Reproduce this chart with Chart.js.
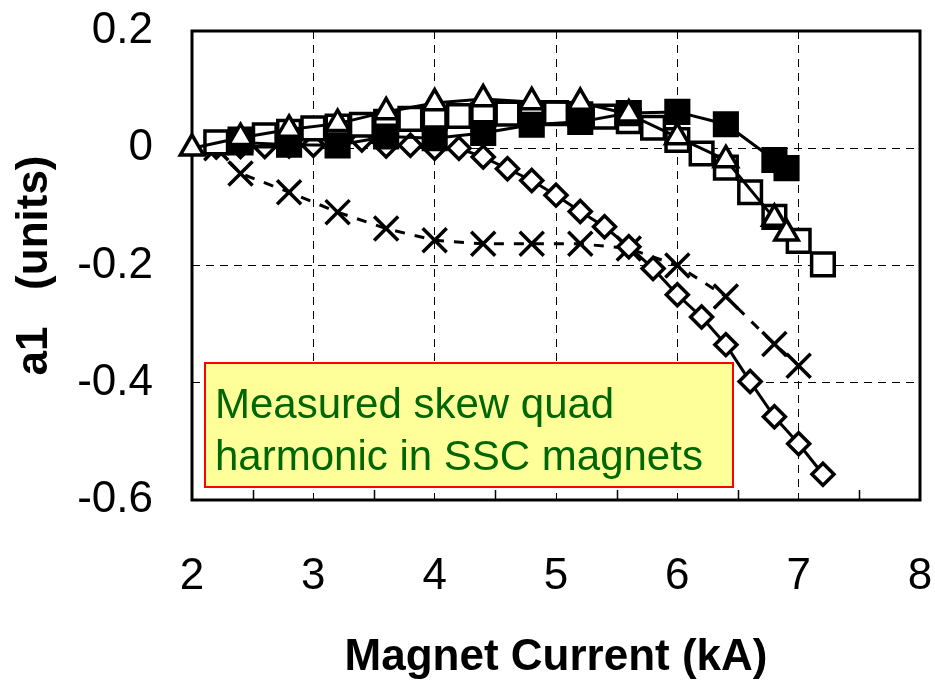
<!DOCTYPE html>
<html>
<head>
<meta charset="utf-8">
<title>Skew quad harmonic a1 vs magnet current</title>
<script src="https://cdn.jsdelivr.net/npm/chart.js@4.4.1/dist/chart.umd.min.js"></script>
<style>
  html, body { margin:0; padding:0; background:#fff; }
  #wrap { width:935px; height:687px; position:relative; }
</style>
</head>
<body>
<div id="wrap"><canvas id="chart"></canvas></div>
<script>
const FONT = '"Liberation Sans", Arial, Helvetica, sans-serif';

// axis ticks
const X_TICKS = [2, 3, 4, 5, 6, 7, 8];
const X_MINOR = [2.5, 3.5, 4.5, 5.5, 6.5, 7.5];
const Y_TICKS = [-0.6, -0.4, -0.2, 0, 0.2];
const Y_TICK_LABELS = ['-0.6', '-0.4', '-0.2', '0', '0.2'];

// magnet A - open triangles
const triX = [2.0, 2.4, 2.8, 3.2, 3.6, 4.0, 4.4, 4.8, 5.2, 5.6, 6.0, 6.4, 6.8, 6.9];
const triY = [0.0, 0.018, 0.032, 0.042, 0.062, 0.077, 0.084, 0.079, 0.078, 0.058, 0.019, -0.02, -0.12, -0.145];

// magnet B - filled squares
const fillX = [2.4, 2.8, 3.2, 3.6, 4.0, 4.4, 4.8, 5.2, 5.6, 6.0, 6.4, 6.8, 6.9];
const fillY = [0.01, 0.006, 0.005, 0.02, 0.017, 0.026, 0.04, 0.045, 0.06, 0.062, 0.041, -0.02, -0.034];

// magnet C - open squares
const sqX = [2.2, 2.4, 2.6, 2.8, 3.0, 3.2, 3.4, 3.6, 3.8, 4.0, 4.2, 4.4, 4.6, 4.8, 5.0, 5.2, 5.4, 5.6, 5.8, 6.0, 6.2, 6.4, 6.6, 6.8, 7.0, 7.2];
const sqY = [0.01, 0.015, 0.022, 0.028, 0.034, 0.037, 0.04, 0.045, 0.05, 0.052, 0.055, 0.057, 0.059, 0.06, 0.06, 0.058, 0.054, 0.046, 0.035, 0.014, -0.009, -0.033, -0.075, -0.117, -0.158, -0.198];

// magnet D - open diamonds
const diaX = [2.2, 2.4, 2.6, 2.8, 3.0, 3.2, 3.4, 3.6, 3.8, 4.0, 4.2, 4.4, 4.6, 4.8, 5.0, 5.2, 5.4, 5.6, 5.8, 6.0, 6.2, 6.4, 6.6, 6.8, 7.0, 7.2];
const diaY = [0.002, 0.003, 0.003, 0.004, 0.005, 0.008, 0.014, 0.004, 0.005, 0.0, 0.0, -0.015, -0.035, -0.055, -0.08, -0.108, -0.134, -0.168, -0.205, -0.25, -0.288, -0.335, -0.398, -0.458, -0.504, -0.556];

// magnet E - crosses, dashed
const crossX = [2.2, 2.4, 2.8, 3.2, 3.6, 4.0, 4.4, 4.8, 5.2, 5.6, 6.0, 6.4, 6.8, 7.0];
const crossY = [0.0, -0.043, -0.075, -0.109, -0.137, -0.157, -0.163, -0.163, -0.163, -0.171, -0.2, -0.253, -0.334, -0.371];

const NOTE_LINES = ['Measured skew quad', 'harmonic in SSC magnets'];

const pts = (xs, ys) => xs.map((x, i) => ({ x, y: ys[i] }));

function series(xs, ys, style, radius, fill, extra = {}) {
  return Object.assign({
    data: pts(xs, ys),
    showLine: true,
    clip: false,
    borderColor: '#000',
    borderWidth: 3,
    pointStyle: style,
    pointRadius: radius,
    pointHoverRadius: radius,
    pointBorderWidth: 3.5,
    pointBorderColor: '#000',
    pointBackgroundColor: fill,
    fill: false,
    tension: 0
  }, extra);
}

// frame around the plot plus the small inward ticks on the bottom axis
const framePlugin = {
  id: 'frame',
  beforeDatasetsDraw(chart) {
    const { ctx, chartArea: a, scales: { x } } = chart;
    ctx.save();
    ctx.strokeStyle = '#000';
    ctx.lineWidth = 1.5;
    X_MINOR.forEach(v => {
      const px = Math.round(x.getPixelForValue(v)) + 0.5;
      ctx.beginPath(); ctx.moveTo(px, a.bottom); ctx.lineTo(px, a.bottom - 10); ctx.stroke();
    });
    ctx.lineWidth = 3;
    ctx.strokeRect(a.left, a.top, a.right - a.left, a.bottom - a.top);
    ctx.restore();
  }
};

// yellow note box in the lower left of the plot
const notePlugin = {
  id: 'note',
  afterDraw(chart) {
    const { ctx, chartArea: a } = chart;
    const left = a.left + 13, top = a.top + 332, w = 528, h = 124;
    ctx.save();
    ctx.fillStyle = '#ffff99';
    ctx.fillRect(left, top, w, h);
    ctx.strokeStyle = '#ff0000';
    ctx.lineWidth = 2;
    ctx.strokeRect(left, top, w, h);
    ctx.fillStyle = '#006600';
    ctx.font = '42px ' + FONT;
    ctx.textBaseline = 'alphabetic';
    ctx.textAlign = 'left';
    ctx.fillText(NOTE_LINES[0], left + 10, top + 55);
    ctx.fillText(NOTE_LINES[1], left + 10, top + 107);
    ctx.restore();
  }
};

new Chart(document.getElementById('chart'), {
  type: 'scatter',
  data: {
    datasets: [
      series(triX, triY, 'triangle', 13.5, '#fff'),
      series(fillX, fillY, 'rect', 16, '#000'),
      series(sqX, sqY, 'rect', 16, '#fff'),
      series(diaX, diaY, 'rectRot', 11, '#fff'),
      series(crossX, crossY, 'crossRot', 17, '#fff', { borderDash: [10, 10] })
    ]
  },
  options: {
    responsive: true,
    maintainAspectRatio: false,
    animation: false,
    devicePixelRatio: 1,
    layout: { autoPadding: false, padding: { top: 31, right: 15, left: 0, bottom: 0 } },
    plugins: { legend: { display: false }, tooltip: { enabled: false } },
    scales: {
      x: {
        type: 'linear',
        min: 2, max: 8,
        afterBuildTicks: s => { s.ticks = X_TICKS.map(v => ({ value: v })); },
        afterFit: s => { s.height = 187; s.paddingLeft = 0; s.paddingRight = 0; },
        grid: { color: '#000', lineWidth: 1, drawTicks: false },
        border: { display: false, dash: [8, 6] },
        ticks: { color: '#000', font: { family: FONT, size: 44 }, padding: 50, maxRotation: 0, autoSkip: false },
        title: { display: true, text: 'Magnet Current (kA)', color: '#000', font: { family: FONT, size: 44, weight: 'bold' }, padding: { top: 0, bottom: 3 } }
      },
      y: {
        type: 'linear',
        min: -0.6, max: 0.2,
        afterBuildTicks: s => { s.ticks = Y_TICKS.map(v => ({ value: v })); },
        afterFit: s => { s.width = 192; s.paddingTop = 0; s.paddingBottom = 0; },
        grid: { color: '#000', lineWidth: 1, drawTicks: false },
        border: { display: false, dash: [8, 6] },
        ticks: {
          color: '#000', font: { family: FONT, size: 44 }, padding: 39, autoSkip: false,
          callback: v => Y_TICK_LABELS[Y_TICKS.findIndex(t => Math.abs(t - v) < 1e-9)] ?? ''
        },
        title: { display: true, text: 'a1   (units)', color: '#000', font: { family: FONT, size: 44, weight: 'bold' }, padding: { top: 8, bottom: 0 } }
      }
    }
  },
  plugins: [framePlugin, notePlugin]
});
</script>
</body>
</html>
